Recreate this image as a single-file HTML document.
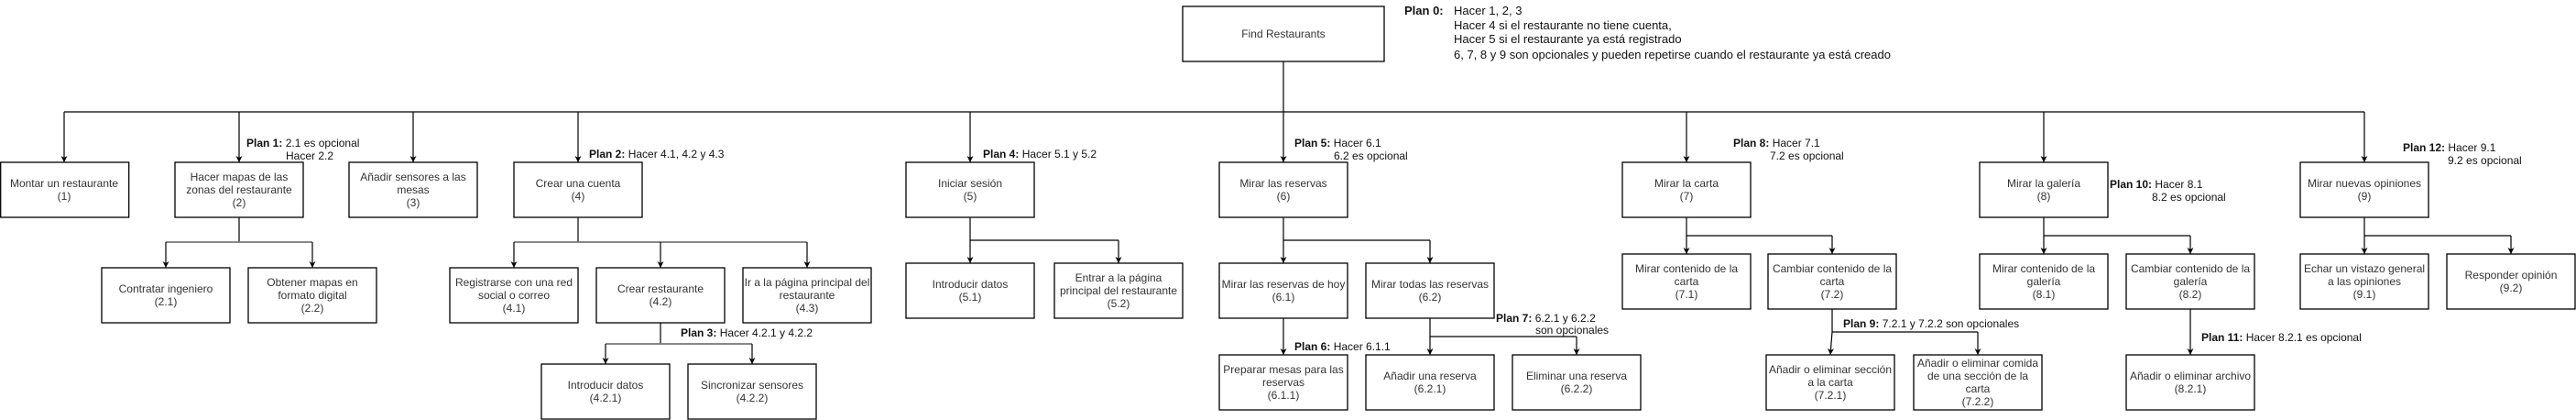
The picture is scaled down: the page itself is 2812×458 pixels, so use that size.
<!DOCTYPE html>
<html><head><meta charset="utf-8"><style>
html,body{margin:0;padding:0;background:#fff;}
svg{display:block;}
.b{fill:#fff;stroke:#000;stroke-width:1.3;}
.l{stroke:#000;stroke-width:1.2;fill:none;}
.g{stroke:#777;stroke-width:1.8;fill:none;}
.t{font-family:"Liberation Sans",Arial,sans-serif;font-size:12px;fill:#333;text-anchor:middle;}
.p{font-family:"Liberation Sans",Arial,sans-serif;font-size:12px;fill:#111;}
.p0{font-family:"Liberation Sans",Arial,sans-serif;font-size:13px;fill:#111;}
.bd{font-weight:bold;}
</style></head><body>
<svg width="2812" height="458" viewBox="0 0 2812 458" xmlns="http://www.w3.org/2000/svg">
<defs><marker id="a" markerWidth="8" markerHeight="8" refX="7" refY="4" orient="auto" markerUnits="userSpaceOnUse"><path d="M0,0.5 L7,4 L0,7.5 L2,4z" fill="#000"/></marker></defs>

<path class="l" d="M1401,67V122M70,122H2581"/>
<g class="l" marker-end="url(#a)">
<path d="M70,122V177"/><path d="M261,122V177"/><path d="M451,122V177"/><path d="M631,122V177"/>
<path d="M1059,122V177"/><path d="M1401,122V177"/><path d="M1841,122V177"/><path d="M2231,122V177"/><path d="M2581,122V177"/>
</g>
<path class="l" d="M261,237V264M631,237V264M721,352V375"/>
<path class="g" d="M181,264H341M561,264H881M661,375H821"/>
<g class="l" marker-end="url(#a)">
<path d="M181,264V292"/><path d="M341,264V292"/>
<path d="M561,264V292"/><path d="M721,264V292"/><path d="M881,264V292"/>
<path d="M661,375V397"/><path d="M821,375V397"/>
</g>
<path class="l" d="M1059,237V262H1221M1401,237V262H1561M1561,347V367H1721M1841,237V257H2000M2000,337V362H2159M2231,237V257H2391M2581,237V257H2741"/>
<g class="l" marker-end="url(#a)">
<path d="M1059,262V287"/><path d="M1221,262V287"/>
<path d="M1401,262V287"/><path d="M1561,262V287"/>
<path d="M1401,347V387"/>
<path d="M1561,367V387"/><path d="M1721,367V387"/>
<path d="M1841,257V277"/><path d="M2000,257V277"/>
<path d="M2000,362L1998,387"/><path d="M2159,362V387"/>
<path d="M2231,257V277"/><path d="M2391,257V277"/>
<path d="M2391,337V387"/>
<path d="M2581,257V277"/><path d="M2741,257V277"/>
</g>

<rect class="b" x="1291" y="7" width="220" height="60"/>
<rect class="b" x="0.7" y="177" width="140" height="60"/>
<rect class="b" x="191" y="177" width="140" height="60"/>
<rect class="b" x="381" y="177" width="140" height="60"/>
<rect class="b" x="561" y="177" width="140" height="60"/>
<rect class="b" x="989" y="177" width="140" height="60"/>
<rect class="b" x="1331" y="177" width="140" height="60"/>
<rect class="b" x="1771" y="177" width="140" height="60"/>
<rect class="b" x="2161" y="177" width="140" height="60"/>
<rect class="b" x="2511" y="177" width="140" height="60"/>

<rect class="b" x="111" y="292" width="140" height="60"/>
<rect class="b" x="271" y="292" width="140" height="60"/>
<rect class="b" x="491" y="292" width="140" height="60"/>
<rect class="b" x="651" y="292" width="140" height="60"/>
<rect class="b" x="811" y="292" width="140" height="60"/>
<rect class="b" x="591" y="397" width="140" height="60"/>
<rect class="b" x="751" y="397" width="140" height="60"/>

<rect class="b" x="989" y="287" width="140" height="60"/>
<rect class="b" x="1151" y="287" width="140" height="60"/>
<rect class="b" x="1331" y="287" width="140" height="60"/>
<rect class="b" x="1491" y="287" width="140" height="60"/>
<rect class="b" x="1331" y="387" width="140" height="60"/>
<rect class="b" x="1491" y="387" width="140" height="60"/>
<rect class="b" x="1651" y="387" width="140" height="60"/>

<rect class="b" x="1771" y="277" width="140" height="60"/>
<rect class="b" x="1930" y="277" width="140" height="60"/>
<rect class="b" x="2161" y="277" width="140" height="60"/>
<rect class="b" x="2321" y="277" width="140" height="60"/>
<rect class="b" x="2511" y="277" width="140" height="60"/>
<rect class="b" x="2671" y="277" width="140" height="60"/>
<rect class="b" x="1928" y="387" width="140" height="60"/>
<rect class="b" x="2089" y="387" width="140" height="60"/>
<rect class="b" x="2321" y="387" width="140" height="60"/>

<g class="t">
<text x="1401" y="41">Find Restaurants</text>
<text x="70" y="204">Montar un restaurante</text><text x="70" y="218">(1)</text>
<text x="261" y="197">Hacer mapas de las</text><text x="261" y="211">zonas del restaurante</text><text x="261" y="225">(2)</text>
<text x="451" y="197">Añadir sensores a las</text><text x="451" y="211">mesas</text><text x="451" y="225">(3)</text>
<text x="631" y="204">Crear una cuenta</text><text x="631" y="218">(4)</text>
<text x="1059" y="204">Iniciar sesión</text><text x="1059" y="218">(5)</text>
<text x="1401" y="204">Mirar las reservas</text><text x="1401" y="218">(6)</text>
<text x="1841" y="204">Mirar la carta</text><text x="1841" y="218">(7)</text>
<text x="2231" y="204">Mirar la galería</text><text x="2231" y="218">(8)</text>
<text x="2581" y="204">Mirar nuevas opiniones</text><text x="2581" y="218">(9)</text>

<text x="181" y="319">Contratar ingeniero</text><text x="181" y="333">(2.1)</text>
<text x="341" y="312">Obtener mapas en</text><text x="341" y="326">formato digital</text><text x="341" y="340">(2.2)</text>
<text x="561" y="312">Registrarse con una red</text><text x="561" y="326">social o correo</text><text x="561" y="340">(4.1)</text>
<text x="721" y="319">Crear restaurante</text><text x="721" y="333">(4.2)</text>
<text x="881" y="312">Ir a la página principal del</text><text x="881" y="326">restaurante</text><text x="881" y="340">(4.3)</text>
<text x="661" y="424">Introducir datos</text><text x="661" y="438">(4.2.1)</text>
<text x="821" y="424">Sincronizar sensores</text><text x="821" y="438">(4.2.2)</text>

<text x="1059" y="314">Introducir datos</text><text x="1059" y="328">(5.1)</text>
<text x="1221" y="307">Entrar a la página</text><text x="1221" y="321">principal del restaurante</text><text x="1221" y="335">(5.2)</text>
<text x="1401" y="314">Mirar las reservas de hoy</text><text x="1401" y="328">(6.1)</text>
<text x="1561" y="314">Mirar todas las reservas</text><text x="1561" y="328">(6.2)</text>
<text x="1401" y="407">Preparar mesas para las</text><text x="1401" y="421">reservas</text><text x="1401" y="435">(6.1.1)</text>
<text x="1561" y="414">Añadir una reserva</text><text x="1561" y="428">(6.2.1)</text>
<text x="1721" y="414">Eliminar una reserva</text><text x="1721" y="428">(6.2.2)</text>

<text x="1841" y="297">Mirar contenido de la</text><text x="1841" y="311">carta</text><text x="1841" y="325">(7.1)</text>
<text x="2000" y="297">Cambiar contenido de la</text><text x="2000" y="311">carta</text><text x="2000" y="325">(7.2)</text>
<text x="2231" y="297">Mirar contenido de la</text><text x="2231" y="311">galería</text><text x="2231" y="325">(8.1)</text>
<text x="2391" y="297">Cambiar contenido de la</text><text x="2391" y="311">galería</text><text x="2391" y="325">(8.2)</text>
<text x="2581" y="297">Echar un vistazo general</text><text x="2581" y="311">a las opiniones</text><text x="2581" y="325">(9.1)</text>
<text x="2741" y="304">Responder opinión</text><text x="2741" y="318">(9.2)</text>
<text x="1998" y="407">Añadir o eliminar sección</text><text x="1998" y="421">a la carta</text><text x="1998" y="435">(7.2.1)</text>
<text x="2159" y="400">Añadir o eliminar comida</text><text x="2159" y="414">de una sección de la</text><text x="2159" y="428">carta</text><text x="2159" y="442">(7.2.2)</text>
<text x="2391" y="414">Añadir o eliminar archivo</text><text x="2391" y="428">(8.2.1)</text>
</g>

<g class="p0">
<text x="1533" y="16"><tspan class="bd">Plan 0:</tspan></text>
<text x="1587" y="16">Hacer 1, 2, 3</text>
<text x="1587" y="32">Hacer 4 si el restaurante no tiene cuenta,</text>
<text x="1587" y="47">Hacer 5 si el restaurante ya está registrado</text>
<text x="1587" y="64">6, 7, 8  y 9 son opcionales y pueden repetirse cuando el restaurante ya está creado</text>
</g>
<g class="p">
<text x="269" y="160"><tspan class="bd">Plan 1:</tspan> 2.1 es opcional</text><text x="312" y="174">Hacer 2.2</text>
<text x="643" y="172"><tspan class="bd">Plan 2:</tspan> Hacer 4.1, 4.2 y 4.3</text>
<text x="743" y="367"><tspan class="bd">Plan 3:</tspan> Hacer 4.2.1 y 4.2.2</text>
<text x="1073" y="172"><tspan class="bd">Plan 4:</tspan> Hacer 5.1 y 5.2</text>
<text x="1413" y="160"><tspan class="bd">Plan 5:</tspan> Hacer 6.1</text><text x="1456" y="174">6.2 es opcional</text>
<text x="1413" y="382"><tspan class="bd">Plan 6:</tspan> Hacer 6.1.1</text>
<text x="1633" y="351"><tspan class="bd">Plan 7:</tspan> 6.2.1 y 6.2.2</text><text x="1676" y="364">son opcionales</text>
<text x="1892" y="160"><tspan class="bd">Plan 8:</tspan> Hacer 7.1</text><text x="1932" y="174">7.2 es opcional</text>
<text x="2012" y="357"><tspan class="bd">Plan 9:</tspan> 7.2.1 y 7.2.2 son opcionales</text>
<text x="2303" y="205"><tspan class="bd">Plan 10:</tspan> Hacer 8.1</text><text x="2349" y="219">8.2 es opcional</text>
<text x="2403" y="372"><tspan class="bd">Plan 11:</tspan> Hacer 8.2.1 es opcional</text>
<text x="2623" y="165"><tspan class="bd">Plan 12:</tspan> Hacer 9.1</text><text x="2672" y="179">9.2 es opcional</text>
</g>
</svg>
</body></html>
